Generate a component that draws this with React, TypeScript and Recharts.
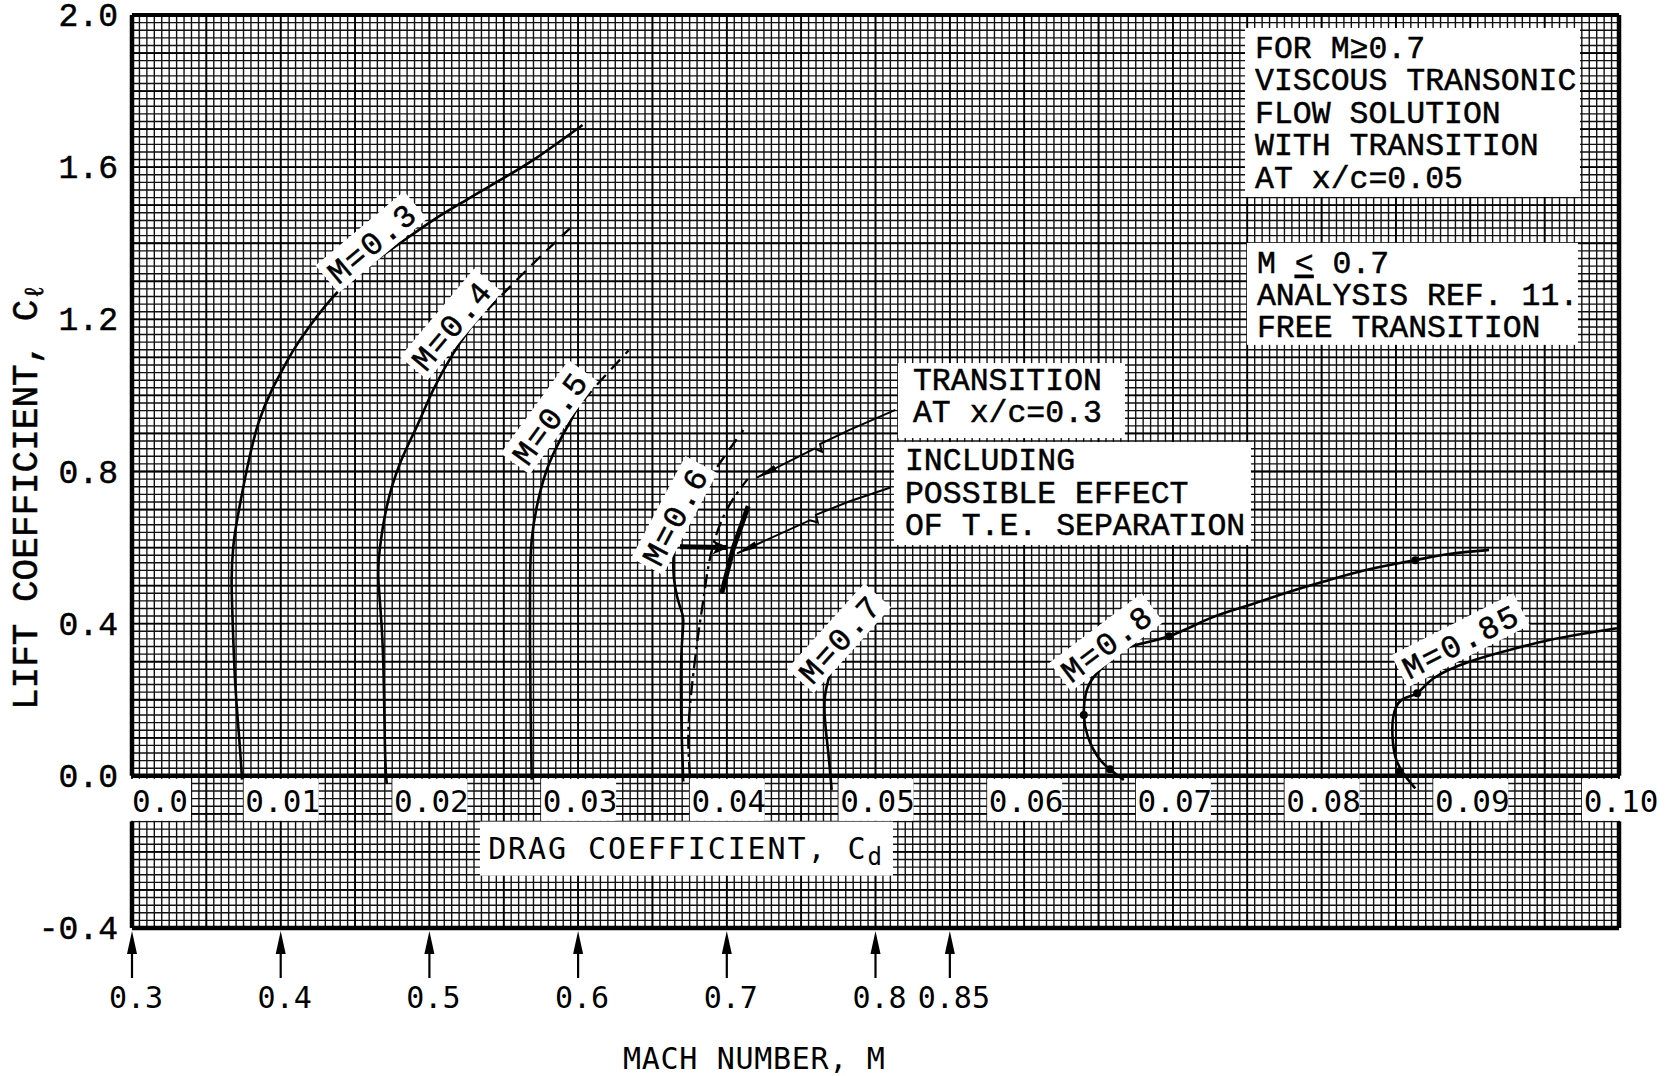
import {
  ComposedChart,
  Line,
  Scatter,
  XAxis,
  YAxis,
  CartesianGrid,
  ReferenceLine,
  ReferenceDot,
  Label,
} from "recharts";

type Pt = [number, number];

/* ── axes ────────────────────────────────────────────────────────── */

const liftTicks = [-0.4, 0, 0.4, 0.8, 1.2, 1.6, 2.0];
const liftTickLabels = ["-0.4", "0.0", "0.4", "0.8", "1.2", "1.6", "2.0"];

const dragTicks = [0, 0.01, 0.02, 0.03, 0.04, 0.05, 0.06, 0.07, 0.08, 0.09, 0.1];
const dragTickLabels = ["0.0", "0.01", "0.02", "0.03", "0.04", "0.05", "0.06", "0.07", "0.08", "0.09", "0.10"];

// Mach number scale sits under the drag axis, one arrow per polar origin
const machTicks = [0, 0.01, 0.02, 0.03, 0.04, 0.05, 0.055];
const machTickLabels = ["0.3", "0.4", "0.5", "0.6", "0.7", "0.8", "0.85"];

/* ── drag polars, [Cd, Cl] ───────────────────────────────────────── */

const m03: Pt[] = [
  [0.0074, -0.01], [0.00722, 0.094], [0.00693, 0.252], [0.00675, 0.427],
  [0.0067, 0.515], [0.00681, 0.602], [0.00715, 0.69], [0.00775, 0.81],
  [0.0085, 0.927], [0.0094, 1.014], [0.01029, 1.08], [0.0113, 1.146],
  [0.01354, 1.26], [0.01578, 1.338], [0.01802, 1.4], [0.02026, 1.461],
  [0.0225, 1.514], [0.02475, 1.566], [0.02699, 1.619], [0.0303, 1.711],
];

const m04Solid: Pt[] = [
  [0.01713, -0.02], [0.01701, 0.077], [0.01686, 0.339], [0.01657, 0.515],
  [0.01668, 0.602], [0.01713, 0.707], [0.01802, 0.821], [0.01915, 0.918],
  [0.02026, 1.015], [0.0216, 1.11], [0.0229, 1.185],
];
const m04Dashed: Pt[] = [[0.0229, 1.185], [0.02475, 1.259], [0.02699, 1.347], [0.02945, 1.439]];

const m05Solid: Pt[] = [
  [0.02688, -0.01], [0.02681, 0.165], [0.02677, 0.339], [0.02677, 0.515],
  [0.02688, 0.62], [0.02722, 0.707], [0.02789, 0.804], [0.02878, 0.882], [0.0296, 0.94],
];
const m05Dashed: Pt[] = [[0.0296, 0.94], [0.03058, 0.997], [0.03339, 1.118]];

const m06Solid: Pt[] = [
  [0.03707, -0.015], [0.03697, 0.103], [0.03692, 0.234], [0.03697, 0.339],
  [0.03707, 0.41], [0.03685, 0.445], [0.03652, 0.497], [0.0364, 0.55],
  [0.03652, 0.602], [0.037, 0.675],
];
const m06Dashed: Pt[] = [[0.037, 0.675], [0.03831, 0.743], [0.03909, 0.795], [0.03999, 0.848], [0.04111, 0.909]];
// transition fixed at x/c = 0.3
const m06Transition: Pt[] = [
  [0.03752, 0.0], [0.03741, 0.094], [0.03752, 0.182], [0.03775, 0.269],
  [0.03809, 0.375], [0.03842, 0.462], [0.03876, 0.55], [0.03932, 0.637],
  [0.04022, 0.715], [0.0414, 0.78],
];
// trailing-edge separation band and the shift arrow
const m06Separation: Pt[] = [[0.03966, 0.48], [0.04045, 0.6], [0.04144, 0.709]];
const m06Shift: Pt[] = [[0.03685, 0.602], [0.04, 0.6]];

const m07Solid: Pt[] = [
  [0.04705, -0.037], [0.04683, 0.059], [0.0466, 0.147], [0.0466, 0.208],
  [0.04683, 0.252], [0.04716, 0.287], [0.04761, 0.31],
];
const m07Dashed: Pt[] = [[0.04761, 0.31], [0.0484, 0.36], [0.049, 0.4], [0.0498, 0.44]];

const m08: Pt[] = [
  [0.0667, -0.011], [0.06576, 0.017], [0.06495, 0.05], [0.06428, 0.103],
  [0.06401, 0.16], [0.06415, 0.217], [0.06469, 0.26], [0.06576, 0.304],
  [0.0671, 0.339], [0.06974, 0.367], [0.07248, 0.414], [0.07516, 0.449],
  [0.07784, 0.484], [0.08052, 0.515], [0.08321, 0.543], [0.0863, 0.567],
  [0.08858, 0.583], [0.09126, 0.594],
];
const m08Points: Pt[] = [[0.06576, 0.017], [0.06401, 0.16], [0.06974, 0.367], [0.0863, 0.567]];

const m085: Pt[] = [
  [0.0863, -0.033], [0.08549, 0.007], [0.08496, 0.05], [0.08477, 0.103],
  [0.08482, 0.155], [0.08536, 0.199], [0.08643, 0.217], [0.08751, 0.256],
  [0.08993, 0.3], [0.09264, 0.331], [0.09532, 0.357], [0.09798, 0.376], [0.09986, 0.388],
];
const m085Points: Pt[] = [[0.08527, 0.01], [0.08643, 0.217]];

/* ── leader lines from the notes ─────────────────────────────────── */

const leaderTransition: Pt[] = [
  [0.05134, 0.962], [0.04822, 0.909], [0.04627, 0.872], [0.0464, 0.852], [0.0459, 0.86], [0.04202, 0.784],
];
const leaderSeparation: Pt[] = [
  [0.05101, 0.758], [0.04822, 0.721], [0.04599, 0.686], [0.04612, 0.666], [0.0456, 0.672], [0.04069, 0.585],
];

/* ── curve tags ──────────────────────────────────────────────────── */

const tagText = ["M=0.3", "M=0.4", "M=0.5", "M=0.6", "M=0.7", "M=0.8", "M=0.85"];
const tagAt: Pt[] = [
  [0.01614, 1.401], [0.0215, 1.185], [0.02811, 0.941], [0.03652, 0.683],
  [0.0476, 0.36], [0.06557, 0.349], [0.08937, 0.354],
];

/* ── grid paper ──────────────────────────────────────────────────── */

const gridMinorX = Array.from({ length: 201 }, (_, i) => +(i * 0.0005).toFixed(4));
const gridMinorY = Array.from({ length: 121 }, (_, i) => +(-0.4 + i * 0.02).toFixed(2));
const gridMajorX = Array.from({ length: 21 }, (_, i) => +(i * 0.005).toFixed(3));
const gridMajorY = Array.from({ length: 25 }, (_, i) => +(-0.4 + i * 0.1).toFixed(1));

const W = 1676;
const H = 1076;
const MONO = '"Liberation Mono", "Courier New", monospace';
const GOTHIC = '"DejaVu Sans Mono", monospace';
const ink = { fill: "#000", stroke: "#000", strokeWidth: 0.5 };

const xy = (pts: Pt[]) => pts.map(([x, y]) => ({ x, y }));

// the x axis draws no tick text, but its ticks must exist for the grid
const NoTick = () => <g />;

function LiftTick(props: any) {
  const { x, y, payload } = props;
  const i = liftTicks.indexOf(payload.value);
  return (
    <text x={x} y={y + 11} textAnchor="end" fontFamily={MONO} fontSize={33} {...ink}>
      {liftTickLabels[i]}
    </text>
  );
}

function LiftTitle(props: any) {
  const vb = props.viewBox ?? { x: 0, y: 15 };
  const cx = vb.x + 37;
  const cy = vb.y + 482;
  return (
    <text x={cx} y={cy} transform={`rotate(-90 ${cx} ${cy})`} textAnchor="middle" fontFamily={MONO} fontSize={36} {...ink}>
      LIFT COEFFICIENT, C<tspan fontSize={26} dy={6}>ℓ</tspan>
    </text>
  );
}

function MachTitle(props: any) {
  const vb = props.viewBox ?? { x: 132, y: 928, width: 1487 };
  return (
    <text x={vb.x + vb.width * 0.4185} y={vb.y + 141} textAnchor="middle" fontFamily={GOTHIC} fontSize={30} letterSpacing={0.7} fill="#000">
      MACH NUMBER, M
    </text>
  );
}

function DragTickBox({ cx, cy, label, first }: any) {
  const bx = first ? cx - 2 : cx - 37;
  const bw = first ? 61 : 75;
  return (
    <g>
      <rect x={bx} y={cy + 3} width={bw} height={42} fill="#fff" />
      <text x={first ? cx : cx + 2} y={cy + 36} textAnchor={first ? "start" : "middle"} fontFamily={GOTHIC} fontSize={31} fill="#000">
        {label}
      </text>
    </g>
  );
}

function MachArrow({ cx, cy, label }: any) {
  return (
    <g>
      <line x1={cx} y1={cy + 14} x2={cx} y2={cy + 50} stroke="#000" strokeWidth={2.2} />
      <path d={`M${cx},${cy + 3} L${cx - 5},${cy + 26} L${cx + 5},${cy + 26} Z`} fill="#000" />
      <text x={cx + 4} y={cy + 80} textAnchor="middle" fontFamily={GOTHIC} fontSize={30} fill="#000">
        {label}
      </text>
    </g>
  );
}

function CurveTag({ cx, cy, text, angle }: any) {
  const w = text.length * 21.5 + 8;
  return (
    <g transform={`translate(${cx},${cy}) rotate(${angle})`}>
      <rect x={-w / 2} y={-19} width={w} height={36} fill="#fff" />
      <text x={0} y={11} textAnchor="middle" fontFamily={MONO} fontSize={32} letterSpacing={2} {...ink}>
        {text}
      </text>
    </g>
  );
}

function NoteBox({ cx, cy, w, h, lines, dx, first, step }: any) {
  return (
    <g>
      <rect x={cx} y={cy} width={w} height={h} fill="#fff" />
      {lines.map((ln: any, i: number) => (
        <text key={i} x={cx + dx} y={cy + first + i * step} fontFamily={MONO} fontSize={31.5} {...ink}>
          {ln}
        </text>
      ))}
    </g>
  );
}

const tagAngles = [-40, -50, -54, -62, -48, -37, -27];

const lineStyle = {
  stroke: "#000",
  dot: false,
  activeDot: false,
  isAnimationActive: false,
  legendType: "none" as const,
};

export default function App() {
  return (
    <div style={{ position: "absolute", left: 0, top: 0, width: W, height: H, background: "#fff" }}>
      <ComposedChart width={W} height={H} margin={{ top: 15, right: 57, bottom: 0, left: 0 }}>
        <defs>
          <marker id="ptr" markerUnits="userSpaceOnUse" viewBox="0 0 22 10" markerWidth={22} markerHeight={10} refX={21} refY={5} orient="auto">
            <path d="M0,1.5 L22,5 L0,8.5 Z" fill="#000" />
          </marker>
          <marker id="ptrBold" markerUnits="userSpaceOnUse" viewBox="0 0 16 14" markerWidth={16} markerHeight={14} refX={14} refY={7} orient="auto">
            <path d="M0,0 L16,7 L0,14 L4,7 Z" fill="#000" />
          </marker>
        </defs>

        <XAxis
          type="number"
          dataKey="x"
          domain={[0, 0.1]}
          allowDataOverflow
          height={148}
          interval={0}
          tick={NoTick}
          tickLine={false}
          axisLine={false}
          label={<Label content={MachTitle} />}
        />
        <YAxis
          type="number"
          dataKey="y"
          domain={[-0.4, 2.0]}
          allowDataOverflow
          width={132}
          ticks={liftTicks}
          interval={0}
          tick={LiftTick}
          tickLine={false}
          axisLine={false}
          tickSize={0}
          tickMargin={14}
          label={<Label content={LiftTitle} />}
        />

        <CartesianGrid verticalValues={gridMinorX} horizontalValues={gridMinorY} stroke="#111" strokeWidth={1.4} />
        <CartesianGrid verticalValues={gridMajorX} horizontalValues={gridMajorY} stroke="#000" strokeWidth={1.8} />

        {/* drag polars */}
        <Line data={xy(m03)} dataKey="y" type="natural" strokeWidth={2.6} {...lineStyle} />
        <Line data={xy(m04Solid)} dataKey="y" type="natural" strokeWidth={2.6} {...lineStyle} />
        <Line data={xy(m04Dashed)} dataKey="y" type="natural" strokeWidth={2.3} strokeDasharray="13 8" {...lineStyle} />
        <Line data={xy(m05Solid)} dataKey="y" type="natural" strokeWidth={2.6} {...lineStyle} />
        <Line data={xy(m05Dashed)} dataKey="y" type="natural" strokeWidth={2.3} strokeDasharray="13 8" {...lineStyle} />
        <Line data={xy(m06Solid)} dataKey="y" type="natural" strokeWidth={2.6} {...lineStyle} />
        <Line data={xy(m06Dashed)} dataKey="y" type="natural" strokeWidth={2.3} strokeDasharray="13 8" {...lineStyle} />
        <Line data={xy(m06Transition)} dataKey="y" type="natural" strokeWidth={2.3} strokeDasharray="14 5 3 5" {...lineStyle} />
        <Line data={xy(m06Separation)} dataKey="y" type="linear" strokeWidth={5} {...lineStyle} />
        <Line data={xy(m06Shift)} dataKey="y" type="linear" strokeWidth={5} markerEnd="url(#ptrBold)" {...lineStyle} />
        <Line data={xy(m07Solid)} dataKey="y" type="natural" strokeWidth={2.6} {...lineStyle} />
        <Line data={xy(m07Dashed)} dataKey="y" type="natural" strokeWidth={2.3} strokeDasharray="13 8" {...lineStyle} />
        <Line data={xy(m08)} dataKey="y" type="natural" strokeWidth={2.6} {...lineStyle} />
        <Line data={xy(m085)} dataKey="y" type="natural" strokeWidth={2.6} {...lineStyle} />
        <Scatter data={xy(m08Points)} fill="#000" isAnimationActive={false} shape={(p: any) => <circle cx={p.cx} cy={p.cy} r={4} fill="#000" />} />
        <Scatter data={xy(m085Points)} fill="#000" isAnimationActive={false} shape={(p: any) => <circle cx={p.cx} cy={p.cy} r={4} fill="#000" />} />

        {/* leaders */}
        <Line data={xy(leaderTransition)} dataKey="y" type="linear" strokeWidth={2} markerEnd="url(#ptr)" {...lineStyle} />
        <Line data={xy(leaderSeparation)} dataKey="y" type="linear" strokeWidth={2} markerEnd="url(#ptr)" {...lineStyle} />

        {/* frame: upper block, lower block */}
        <ReferenceLine segment={[{ x: 0, y: 2 }, { x: 0.1, y: 2 }]} stroke="#000" strokeWidth={4} ifOverflow="visible" />
        <ReferenceLine segment={[{ x: 0, y: 0 }, { x: 0.1, y: 0 }]} stroke="#000" strokeWidth={4.5} ifOverflow="visible" />
        <ReferenceLine segment={[{ x: 0, y: -0.4 }, { x: 0.1, y: -0.4 }]} stroke="#000" strokeWidth={4.5} ifOverflow="visible" />
        <ReferenceLine segment={[{ x: 0, y: 0 }, { x: 0, y: 2 }]} stroke="#000" strokeWidth={4.5} ifOverflow="visible" />
        <ReferenceLine segment={[{ x: 0.1, y: 0 }, { x: 0.1, y: 2 }]} stroke="#000" strokeWidth={4.5} ifOverflow="visible" />
        <ReferenceLine segment={[{ x: 0, y: -0.4 }, { x: 0, y: -0.12 }]} stroke="#000" strokeWidth={4.5} ifOverflow="visible" />
        <ReferenceLine segment={[{ x: 0.1, y: -0.4 }, { x: 0.1, y: -0.12 }]} stroke="#000" strokeWidth={4.5} ifOverflow="visible" />

        {/* drag coefficient scale, typed on the zero line */}
        {dragTicks.map((t, i) => (
          <ReferenceDot
            key={`cd${i}`}
            x={t}
            y={0}
            ifOverflow="visible"
            shape={(p: any) => <DragTickBox cx={p.cx} cy={p.cy} label={dragTickLabels[i]} first={i === 0} />}
          />
        ))}
        <ReferenceDot
          x={0.0234}
          y={-0.1204}
          ifOverflow="visible"
          shape={(p: any) => (
            <g>
              <rect x={p.cx} y={p.cy} width={413} height={54} fill="#fff" />
              <text x={p.cx + 206} y={p.cy + 37} textAnchor="middle" fontFamily={GOTHIC} fontSize={30} letterSpacing={1.9} fill="#000">
                DRAG COEFFICIENT, C<tspan fontSize={24} dy={6}>d</tspan>
              </text>
            </g>
          )}
        />

        {/* Mach number scale */}
        {machTicks.map((t, i) => (
          <ReferenceDot
            key={`m${i}`}
            x={t}
            y={-0.4}
            ifOverflow="visible"
            shape={(p: any) => <MachArrow cx={p.cx} cy={p.cy} label={machTickLabels[i]} />}
          />
        ))}

        {/* curve tags */}
        {tagAt.map(([x, y], i) => (
          <ReferenceDot
            key={`tag${i}`}
            x={x}
            y={y}
            ifOverflow="visible"
            shape={(p: any) => <CurveTag cx={p.cx} cy={p.cy} text={tagText[i]} angle={tagAngles[i]} />}
          />
        ))}

        {/* notes */}
        <ReferenceDot
          x={0.07485}
          y={1.966}
          ifOverflow="visible"
          shape={(p: any) => (
            <NoteBox
              cx={p.cx}
              cy={p.cy}
              w={335}
              h={169}
              dx={10}
              first={30}
              step={32.5}
              lines={["FOR M≥0.7", "VISCOUS TRANSONIC", "FLOW SOLUTION", "WITH TRANSITION", "AT x/c=0.05"]}
            />
          )}
        />
        <ReferenceDot
          x={0.07498}
          y={1.401}
          ifOverflow="visible"
          shape={(p: any) => (
            <NoteBox
              cx={p.cx}
              cy={p.cy}
              w={331}
              h={102}
              dx={10}
              first={30}
              step={32}
              lines={[
                <>
                  M <tspan style={{ textDecoration: "underline" }}>&lt;</tspan> 0.7
                </>,
                "ANALYSIS REF. 11.",
                "FREE TRANSITION",
              ]}
            />
          )}
        />
        <ReferenceDot
          x={0.05151}
          y={1.085}
          ifOverflow="visible"
          shape={(p: any) => (
            <NoteBox cx={p.cx} cy={p.cy} w={227} h={75} dx={15} first={27} step={32} lines={["TRANSITION", "AT x/c=0.3"]} />
          )}
        />
        <ReferenceDot
          x={0.05124}
          y={0.8775}
          ifOverflow="visible"
          shape={(p: any) => (
            <NoteBox
              cx={p.cx}
              cy={p.cy}
              w={357}
              h={103}
              dx={11}
              first={28}
              step={32.5}
              lines={["INCLUDING", "POSSIBLE EFFECT", "OF T.E. SEPARATION"]}
            />
          )}
        />
      </ComposedChart>
    </div>
  );
}
